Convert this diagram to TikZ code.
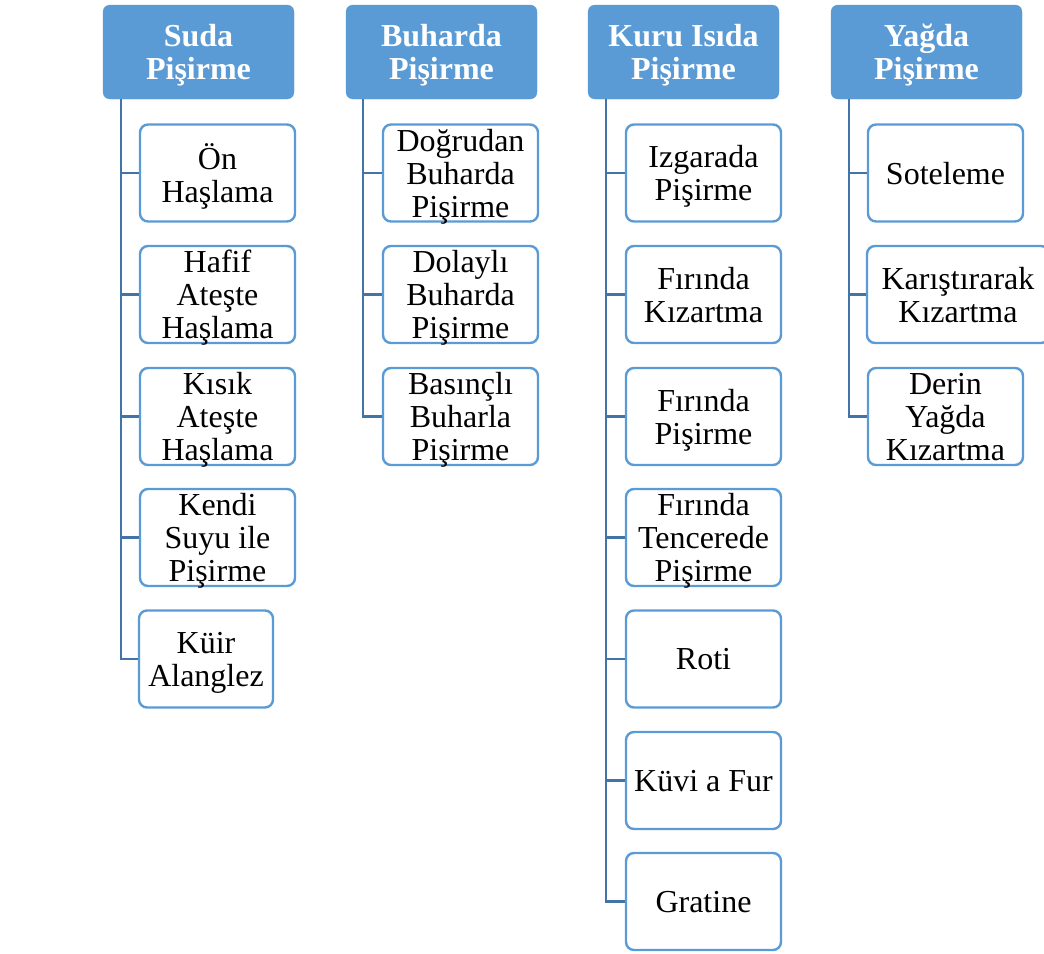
\documentclass[tikz,border=0pt]{standalone}
\usepackage{fontspec}
\setmainfont{Liberation Serif}
\usepackage{tikz}
\usetikzlibrary{positioning}
\definecolor{hdr}{RGB}{91,155,213}
\definecolor{lnk}{RGB}{66,116,168}

\begin{document}
\begin{tikzpicture}[
  x=1pt,y=-1pt,
  font=\fontsize{32}{33}\selectfont,
  head/.style={fill=hdr,draw=hdr,rounded corners=7pt,minimum width=191pt,minimum height=94pt,
    align=center,inner sep=0pt,text=white,font=\fontsize{32}{33}\selectfont\bfseries,
    text depth=-3pt},
  leaf/.style={fill=white,draw=hdr,line width=2.4pt,rounded corners=8pt,minimum width=155pt,
    minimum height=97pt,align=center,inner sep=0pt,text depth=0pt},
  link/.style={draw=lnk,line width=2.6pt}
]
\useasboundingbox (0,0) rectangle (1044,953);

% headers
\node[head] (suda) at (198.5,52) {Suda\\Pişirme};
\node[head] (buhar) at (441.5,52) {Buharda\\Pişirme};
\node[head] (kuru) at (683.5,52) {Kuru Isıda\\Pişirme};
\node[head] (yag) at (926.5,52) {Yağda\\Pişirme};

% suda
\node[leaf] (s1) at (217.5,173)   {Ön\\Haşlama};
\node[leaf] (s2) at (217.5,294.5) {Hafif\\Ateşte\\Haşlama};
\node[leaf] (s3) at (217.5,416.5) {Kısık\\Ateşte\\Haşlama};
\node[leaf] (s4) at (217.5,537.5) {Kendi\\Suyu ile\\Pişirme};
\node[leaf,minimum width=134pt] (s5) at (206,659) {Küir\\Alanglez};

% buharda
\node[leaf] (b1) at (460.5,173)   {Doğrudan\\Buharda\\Pişirme};
\node[leaf] (b2) at (460.5,294.5) {Dolaylı\\Buharda\\Pişirme};
\node[leaf] (b3) at (460.5,416.5) {Basınçlı\\Buharla\\Pişirme};

% kuru isida
\node[leaf] (k1) at (703.5,173)   {Izgarada\\Pişirme};
\node[leaf] (k2) at (703.5,294.5) {Fırında\\Kızartma};
\node[leaf] (k3) at (703.5,416.5) {Fırında\\Pişirme};
\node[leaf] (k4) at (703.5,537.5) {Fırında\\Tencerede\\Pişirme};
\node[leaf] (k5) at (703.5,659)   {Roti};
\node[leaf] (k6) at (703.5,780.5) {Küvi a Fur};
\node[leaf] (k7) at (703.5,901.5) {Gratine};

% yagda
\node[leaf] (y1) at (945.5,173)   {Soteleme};
\node[leaf,minimum width=182pt] (y2) at (958,294.5) {Karıştırarak\\Kızartma};
\node[leaf] (y3) at (945.5,416.5) {Derin\\Yağda\\Kızartma};

% trunks
\coordinate (ts) at ([xshift=18pt]suda.south west);
\coordinate (tb) at ([xshift=17pt]buhar.south west);
\coordinate (tk) at ([xshift=18pt]kuru.south west);
\coordinate (ty) at ([xshift=18pt]yag.south west);

\draw[link] (ts) |- (s1.west);
\draw[link] (ts) |- (s2.west);
\draw[link] (ts) |- (s3.west);
\draw[link] (ts) |- (s4.west);
\draw[link] (ts) |- (s5.west);

\draw[link] (tb) |- (b1.west);
\draw[link] (tb) |- (b2.west);
\draw[link] (tb) |- (b3.west);

\draw[link] (tk) |- (k1.west);
\draw[link] (tk) |- (k2.west);
\draw[link] (tk) |- (k3.west);
\draw[link] (tk) |- (k4.west);
\draw[link] (tk) |- (k5.west);
\draw[link] (tk) |- (k6.west);
\draw[link] (tk) |- (k7.west);

\draw[link] (ty) |- (y1.west);
\draw[link] (ty) |- (y2.west);
\draw[link] (ty) |- (y3.west);
\end{tikzpicture}
\end{document}
